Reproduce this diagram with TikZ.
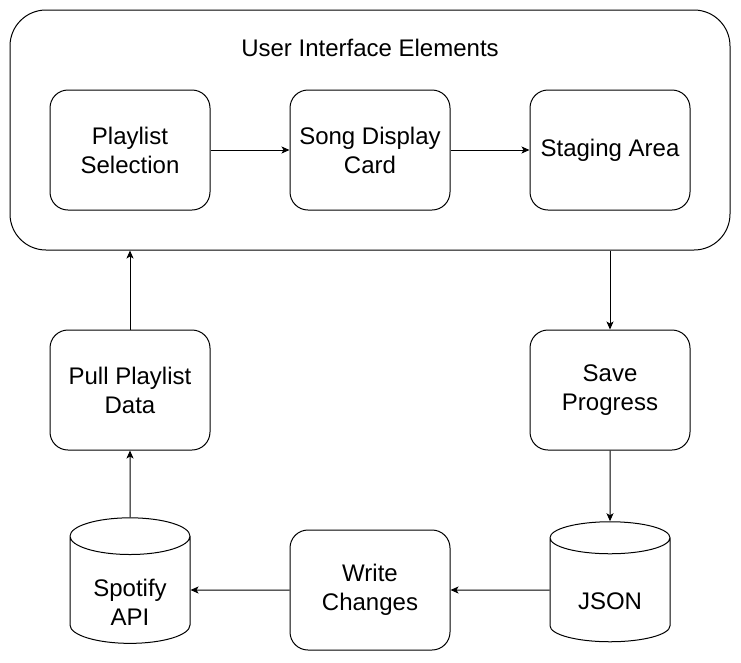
\documentclass[tikz,border=0pt]{standalone}
\usepackage{fontspec}
\setmainfont{Liberation Sans}
\usetikzlibrary{shapes.geometric,arrows.meta}
\tikzset{
    uibox/.style = {draw, line width=1pt, rounded corners=36pt,
        minimum width=720pt, minimum height=240pt, inner sep=0pt},
    stepbox/.style = {draw, line width=1pt, rounded corners=18pt,
        minimum width=160pt, minimum height=120pt, inner sep=0pt, align=center},
    store/.style = {draw, line width=1pt, cylinder, shape border rotate=90,
        aspect=0.5, minimum width=120pt, minimum height=120pt, inner sep=0pt, align=center,
        execute at begin node={\rule{0pt}{#1}}},
    store/.default = 40pt,
    flow/.style = {-{Stealth[length=8pt,width=7pt,inset=2pt]}, line width=1pt}
}

\begin{document}
\begin{tikzpicture}[x=1pt, y=-1pt, font=\fontsize{24}{29}\selectfont]
    \useasboundingbox (0,0) rectangle (741,662);

    \node[uibox] (ui) at (370,130) {};
    \node (uititle) at (370,48) {User Interface Elements};

    \node[stepbox] (plsel) at (130,150) {Playlist\\Selection};
    \node[stepbox] (card) at (370,150) {Song Display\\Card};
    \node[stepbox] (stage) at (610,150) {Staging Area};

    \node[stepbox] (pull) at (130,390) {Pull Playlist\\Data};
    \node[stepbox] (save) at (610,390) {Save\\Progress};

    \node[store=70pt] (spotify) at (130,590) {Spotify\\API};
    \node[stepbox] (write) at (370,590) {Write\\Changes};
    \node[store] (json) at (610,590) {JSON};

    \draw [flow] (plsel.east)--(card.west);
    \draw [flow] (card.east)--(stage.west);

    \draw [flow] (ui.south -| save.north)--(save.north);
    \draw [flow] (save.south)--(json.north);
    \draw [flow] (json.west)--(write.east);
    \draw [flow] (write.west)--(spotify.east);
    \draw [flow] (spotify.north)--(pull.south);
    \draw [flow] (pull.north)--(ui.south -| pull.north);

\end{tikzpicture}
\end{document}
